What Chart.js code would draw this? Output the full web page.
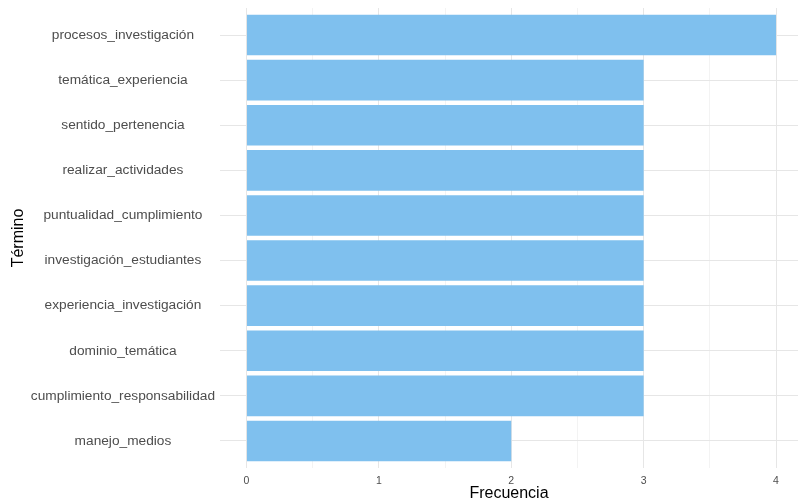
<!DOCTYPE html>
<html>
<head>
<meta charset="utf-8">
<script src="https://cdn.jsdelivr.net/npm/chart.js@4"></script>
<style>
  html, body { margin: 0; padding: 0; background: #fff; }
  #wrap { width: 798px; height: 500px; }
</style>
</head>
<body>
<div id="wrap"><canvas id="chart"></canvas></div>
<script>
// terms from top to bottom
const terminos = [
  'procesos_investigación',
  'temática_experiencia',
  'sentido_pertenencia',
  'realizar_actividades',
  'puntualidad_cumplimiento',
  'investigación_estudiantes',
  'experiencia_investigación',
  'dominio_temática',
  'cumplimiento_responsabilidad',
  'manejo_medios'
];
const frecuencias = [4, 3, 3, 3, 3, 3, 3, 3, 3, 2];
const xTicks = [0, 0.5, 1, 1.5, 2, 2.5, 3, 3.5, 4];

const FONT = "'Liberation Sans', Arial, sans-serif";

const ctx = document.getElementById('chart').getContext('2d');
new Chart(ctx, {
  type: 'bar',
  data: {
    datasets: [{
      data: frecuencias.map((v, i) => ({ x: v, y: i })),
      backgroundColor: '#7fc0ee',
      borderWidth: 0,
      barPercentage: 0.9,
      categoryPercentage: 1
    }]
  },
  options: {
    indexAxis: 'y',
    responsive: true,
    maintainAspectRatio: false,
    animation: false,
    layout: { padding: { top: 8, left: 4, right: 0, bottom: 0 } },
    plugins: { legend: { display: false }, tooltip: { enabled: false } },
    scales: {
      x: {
        type: 'linear',
        min: -0.2,
        max: 4.166,
        afterBuildTicks: s => { s.ticks = xTicks.map(v => ({ value: v })); },
        afterFit: s => { s.height = 32; s.paddingLeft = 0; s.paddingRight = 0; },
        border: { display: false },
        grid: {
          drawTicks: false,
          color: c => Number.isInteger(c.tick.value) ? '#e6e6e6' : '#f3f3f3'
        },
        ticks: {
          padding: 7,
          color: '#4d4d4d',
          font: { family: FONT, size: 10.5 },
          maxRotation: 0,
          autoSkip: false,
          callback: v => Number.isInteger(v) ? String(v) : ''
        },
        title: {
          display: true,
          text: 'Frecuencia',
          color: '#000',
          font: { family: FONT, size: 16, lineHeight: 1 },
          padding: { top: 0, bottom: -2 }
        }
      },
      y: {
        type: 'linear',
        reverse: true,
        offset: false,
        min: -0.6,
        max: 9.6,
        afterBuildTicks: s => { s.ticks = terminos.map((t, i) => ({ value: i })); },
        afterFit: s => { s.width = 216; s.paddingTop = 0; s.paddingBottom = 0; },
        border: { display: false },
        grid: { drawTicks: false, offset: false, color: '#e6e6e6' },
        ticks: {
          padding: 5,
          crossAlign: 'center',
          color: '#4d4d4d',
          font: { family: FONT, size: 13.7 },
          autoSkip: false,
          callback: v => terminos[v]
        },
        title: {
          display: true,
          text: 'Término',
          color: '#000',
          font: { family: FONT, size: 16, lineHeight: 1 },
          padding: { top: 7, bottom: 0 }
        }
      }
    }
  }
});
</script>
</body>
</html>
